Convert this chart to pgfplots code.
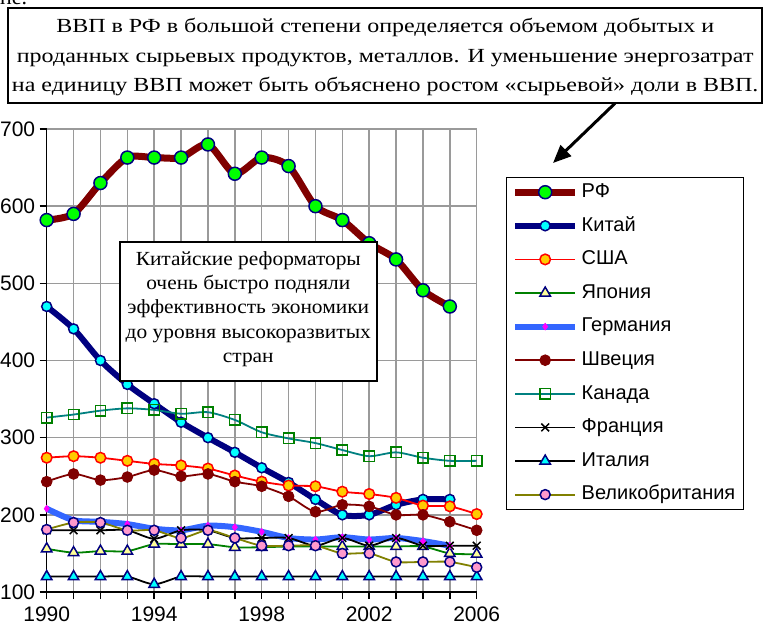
\documentclass[border=0pt]{standalone}
\usepackage{pgfplots}
\pgfplotsset{compat=1.18}
\usetikzlibrary{arrows.meta}
\usepackage{fontspec}
\setmainfont{Liberation Sans}
\newfontfamily\tnr{Liberation Serif}
\newfontfamily\tnrwide[FakeStretch=1.2]{Liberation Serif}
\newfontfamily\tnrmid[FakeStretch=1.07]{Liberation Serif}
\definecolor{rfline}{HTML}{800000}
\definecolor{navy}{HTML}{000080}
\definecolor{lime}{HTML}{00FF00}
\definecolor{cyanm}{HTML}{00FFFF}
\definecolor{gold}{HTML}{FFCC00}
\definecolor{jgreen}{HTML}{008000}
\definecolor{lyellow}{HTML}{FFFF99}
\definecolor{gblue}{HTML}{3366FF}
\definecolor{magent}{HTML}{FF00FF}
\definecolor{teal}{HTML}{008080}
\definecolor{olive}{HTML}{808000}
\definecolor{pink}{HTML}{FF99CC}
\definecolor{gridgray}{HTML}{9A9A9A}

\pgfplotstableread{
year rf china usa japan germany sweden canada france italy uk
1990 582 470 274 156 208 243 326 180 120 181
1991 590 441 276 151 193 253 330 180 120 190
1992 630 400 274 153 191 245 335 180 120 190
1993 663 369 270 153 188 249 338 180 120 180
1994 663 344 266 162 182 258 336 169 110 180
1995 663 320 264 162 180 250 331 180 120 170
1996 680 300 260 162 186 253 333 180 120 180
1997 642 281 251 158 184 243 323 170 120 170
1998 663 261 243 158 178 237 307 170 120 160
1999 652 242 238 159 170 224 299 170 120 160
2000 600 220 237 159 168 204 293 160 120 160
2001 582 200 230 159 171 213 284 170 120 150
2002 552 200 227 159 168 211 276 160 120 150
2003 531 213 222 159 170 200 281 170 120 139
2004 491 220 212 159 166 200 274 160 120 139
2005 470 220 211 150 160 191 270 160 120 139
2006 nan nan 201 149 nan 180 270 160 120 132
}\data

\begin{document}
\begin{tikzpicture}
\node[anchor=base west, inner sep=0pt, font=\tnr\fontsize{22}{26}\selectfont] at (0pt,-4pt) {не.};
\begin{axis}[
  at={(46.7pt,-592pt)}, anchor=south west,
  width=430pt, height=463pt, scale only axis,
  xmin=1990, xmax=2006, ymin=100, ymax=700,
  xtick={1990,...,2006},
  xticklabels={1990,,,,1994,,,,1998,,,,2002,,,,2006},
  ytick={100,200,...,700},
  grid=major, grid style={color=gridgray, line width=1.5pt},
  axis x line*=bottom, axis y line*=left,
  axis line style={line width=1.5pt, -},
  tick style={black, line width=1.5pt},
  major tick length=7pt, tick align=outside,
  ticklabel style={font=\fontsize{21}{25}\selectfont},
  xticklabel style={yshift=-4pt},
  yticklabel style={xshift=-1pt},
  /pgf/number format/assume math mode=true,
  /pgf/number format/1000 sep={},
  clip=false,
  unbounded coords=jump,
  every axis plot/.append style={smooth, tension=0.45},
  legend cell align=left,
  legend image code/.code={\draw[mark repeat=2,mark phase=2,#1] plot coordinates {(0pt,0pt) (30pt,0pt) (60pt,0pt)};},
  legend style={at={(1.068,0.897)}, anchor=north west, draw=black, line width=1.5pt, fill=white,
    font=\fontsize{20}{24}\selectfont, inner xsep=5pt, inner ysep=5.5pt,
    nodes={inner xsep=3pt, inner ysep=0pt, text height=14.5pt, text depth=4pt},
    row sep=15.1pt},
]
\addplot[color=rfline, line width=7pt, mark=*, mark size=6.5pt, mark options={fill=lime, draw=navy, line width=1.5pt}] table[x=year,y=rf] {\data};
\addlegendentry{РФ}
\addplot[color=navy, line width=6pt, mark=*, mark size=5pt, mark options={fill=cyanm, draw=navy, line width=1.5pt}] table[x=year,y=china] {\data};
\addlegendentry{Китай}
\addplot[color=red, line width=1.8pt, mark=*, mark size=5.3pt, mark options={fill=gold, draw=red, line width=1.5pt}] table[x=year,y=usa] {\data};
\addlegendentry{США}
\addplot[color=jgreen, line width=1.8pt, mark=triangle*, mark size=6pt, mark options={fill=lyellow, draw=navy, line width=1.5pt}] table[x=year,y=japan] {\data};
\addlegendentry{Япония}
\addplot[color=gblue, line width=6pt, mark=diamond*, mark size=3.5pt, mark options={fill=magent, draw=magent, line width=0.5pt}] table[x=year,y=germany] {\data};
\addlegendentry{Германия}
\addplot[color=rfline, line width=1.8pt, mark=*, mark size=5.3pt, mark options={fill=rfline, draw=rfline, line width=1pt}] table[x=year,y=sweden] {\data};
\addlegendentry{Швеция}
\addplot[color=teal, line width=1.8pt, mark=square, mark size=5.2pt, mark options={fill=none, draw=jgreen, line width=1.5pt}] table[x=year,y=canada] {\data};
\addlegendentry{Канада}
\addplot[color=black, line width=1.8pt, mark=x, mark size=5.5pt, mark options={draw=black, line width=1.5pt}] table[x=year,y=france] {\data};
\addlegendentry{Франция}
\addplot[color=black, line width=1.8pt, mark=triangle*, mark size=6pt, mark options={fill=cyanm, draw=navy, line width=1.5pt}] table[x=year,y=italy] {\data};
\addlegendentry{Италия}
\addplot[color=olive, line width=1.8pt, mark=*, mark size=5pt, mark options={fill=pink, draw=navy, line width=1.5pt}] table[x=year,y=uk] {\data};
\addlegendentry{Великобритания}
\end{axis}
% top annotation
\draw[line width=2pt, fill=white] (8.3pt,-8.3pt) rectangle (762pt,-103.3pt);
\node[align=center, inner sep=0pt, font=\tnrwide\fontsize{20}{29.5}\selectfont] at (385.2pt,-57pt)
 {ВВП в РФ в большой степени определяется объемом добытых и\\
  проданных сырьевых продуктов, металлов. И уменьшение энергозатрат\\
  на единицу ВВП может быть объяснено ростом «сырьевой» доли в ВВП.};
\draw[line width=3pt, -{Triangle[length=18pt,width=15pt]}] (615pt,-103.3pt) -- (553pt,-163pt);
% inner annotation
\draw[line width=2pt, fill=white] (120pt,-242.3pt) rectangle (376.7pt,-380.7pt);
\node[align=center, inner sep=0pt, font=\tnrmid\fontsize{20}{24.4}\selectfont] at (248.3pt,-309pt)
 {Китайские реформаторы\\ очень быстро подняли\\ эффективность экономики\\ до уровня высокоразвитых\\ стран};
\pgfresetboundingbox
\path[use as bounding box] (0pt,0pt) rectangle (763pt,-627pt);
\end{tikzpicture}
\end{document}
